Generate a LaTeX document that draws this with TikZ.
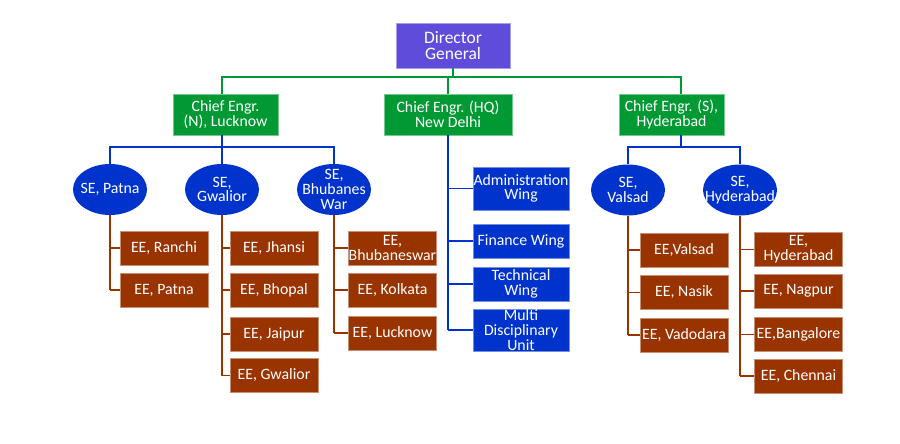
\documentclass[tikz,border=0pt]{standalone}
\usepackage{fontspec}
\setmainfont{Carlito}
\usetikzlibrary{shapes.geometric}
\definecolor{dgpurple}{RGB}{96,76,218}
\definecolor{cegreen}{RGB}{0,153,51}
\definecolor{seblue}{RGB}{0,51,204}
\definecolor{eebrown}{RGB}{153,51,0}

\begin{document}
\begin{tikzpicture}[x=1pt, y=-1pt,
  box/.style={rectangle, align=center, text=white, inner sep=0pt,
    font=\fontsize{15.8}{14.6}\selectfont, line width=0.8pt},
  dgbox/.style={box, fill=dgpurple, draw=dgpurple!55!white,
    minimum width=114pt, minimum height=45pt, font=\fontsize{17.5}{16}\selectfont},
  cebox/.style={box, fill=cegreen, draw=cegreen!55!white, minimum height=41pt},
  sebox/.style={ellipse, fill=seblue, text=white, align=center,
    inner xsep=-11pt, inner ysep=-14pt, minimum width=74pt, minimum height=51pt,
    font=\fontsize{15.8}{14.6}\selectfont},
  eebox/.style={box, fill=eebrown, draw=eebrown!55!white,
    minimum width=88pt, minimum height=34pt},
  wingbox/.style={box, fill=seblue, draw=seblue!55!white, minimum width=96pt},
  gline/.style={cegreen, line width=1.7pt},
  bline/.style={seblue, line width=1.7pt},
  rline/.style={eebrown, line width=1.7pt}]
\useasboundingbox (0,0) rectangle (900,444);

\node[dgbox] (dg) at (453,45.5) {Director\\General};
\node[cebox, minimum width=105pt] (ceN) at (225.5,114.5) {Chief Engr.\\(N), Lucknow};
\node[cebox, minimum width=128pt] (ceH) at (448,114.5) {Chief Engr. (HQ)\\New Delhi};
\node[cebox, minimum width=105pt] (ceS) at (671.5,114.5) {Chief Engr. (S),\\Hyderabad};

\node[sebox] (seP) at (110,189.5) {SE, Patna};
\node[sebox] (seG) at (222,189.5) {SE,\\Gwalior};
\node[sebox] (seB) at (334,189.5) {SE,\\Bhubanes\\War};
\node[sebox] (seV) at (628,190) {SE,\\Valsad};
\node[sebox] (seH) at (740,190) {SE,\\Hyderabad};

\node[eebox] (eeP1) at (164,248) {EE, Ranchi};
\node[eebox] (eeP2) at (164,290) {EE, Patna};
\node[eebox] (eeG1) at (274,248) {EE, Jhansi};
\node[eebox] (eeG2) at (274,290) {EE, Bhopal};
\node[eebox] (eeG3) at (274,334) {EE, Jaipur};
\node[eebox] (eeG4) at (274,375.5) {EE, Gwalior};
\node[eebox] (eeB1) at (392.5,248) {EE,\\Bhubaneswar};
\node[eebox] (eeB2) at (392.5,290) {EE, Kolkata};
\node[eebox] (eeB3) at (392.5,333) {EE, Lucknow};
\node[eebox] (eeV1) at (684,250) {EE,Valsad};
\node[eebox] (eeV2) at (684,292.5) {EE, Nasik};
\node[eebox] (eeV3) at (684,335) {EE, Vadodara};
\node[eebox] (eeH1) at (798.5,249.5) {EE,\\Hyderabad};
\node[eebox] (eeH2) at (798.5,291) {EE, Nagpur};
\node[eebox] (eeH3) at (798.5,334.5) {EE,Bangalore};
\node[eebox] (eeH4) at (798.5,376) {EE, Chennai};

\node[wingbox, minimum height=43pt] (wAdm) at (521,188.5) {Administration\\Wing};
\node[wingbox, minimum height=34pt] (wFin) at (521,241) {Finance Wing};
\node[wingbox, minimum height=34pt] (wTec) at (521,284) {Technical\\Wing};
\node[wingbox, minimum height=42pt] (wMul) at (521,330) {Multi\\Disciplinary\\Unit};

\coordinate (gbus) at (0,77);
\coordinate (bbus) at (0,147);
\coordinate (tapN) at (222,77);
\coordinate (tapS) at (681,77);

\draw[gline] (dg.south) -- (dg |- gbus);
\draw[gline] (tapN |- ceN.north) -- (tapN) -- (tapS) -- (tapS |- ceS.north);
\draw[gline] (ceH |- gbus) -- (ceH.north);

\draw[bline] (ceN.south -| seG) -- (seG.north);
\draw[bline] (seP.north) -- (seP |- bbus) -- (seB |- bbus) -- (seB.north);
\draw[bline] (ceS.south -| tapS) -- (tapS |- bbus);
\draw[bline] (seV.north) -- (seV |- bbus) -- (seH |- bbus) -- (seH.north);
\draw[bline] (ceH.south) -- (ceH |- wMul.west);
\foreach \w in {wAdm, wFin, wTec, wMul}
  \draw[bline] (ceH |- \w.west) -- (\w.west);

\draw[rline] (seP.south) -- (seP |- eeP2.west);
\draw[rline] (seG.south) -- (seG |- eeG4.west);
\draw[rline] (seB.south) -- (seB |- eeB3.west);
\draw[rline] (seV.south) -- (seV |- eeV3.west);
\draw[rline] (seH.south) -- (seH |- eeH4.west);
\foreach \se/\ee in {seP/eeP1, seP/eeP2, seG/eeG1, seG/eeG2, seG/eeG3, seG/eeG4,
    seB/eeB1, seB/eeB2, seB/eeB3, seV/eeV1, seV/eeV2, seV/eeV3,
    seH/eeH1, seH/eeH2, seH/eeH3, seH/eeH4}
  \draw[rline] (\se |- \ee.west) -- (\ee.west);
\end{tikzpicture}
\end{document}
